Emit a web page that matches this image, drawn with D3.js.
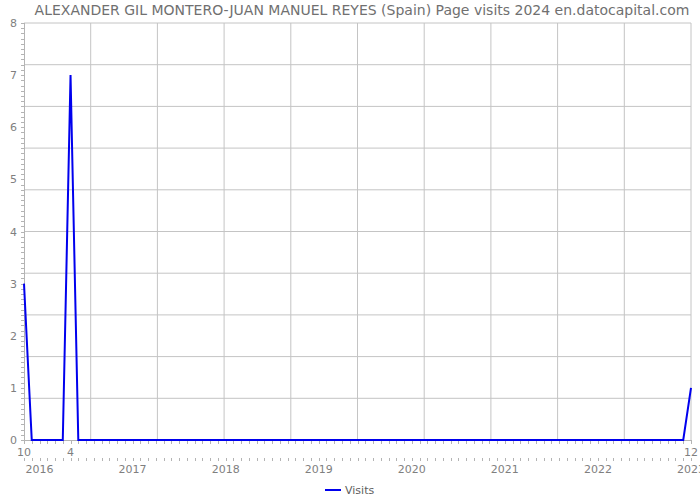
<!DOCTYPE html>
<html><head><meta charset="utf-8">
<script src="https://cdn.jsdelivr.net/npm/d3@7"></script>
<style>body{margin:0;background:#fff}svg{display:block;font-family:"DejaVu Sans",sans-serif}</style>
</head><body><svg id="c" width="700" height="500"></svg>
<script>
const title = "ALEXANDER GIL MONTERO-JUAN MANUEL REYES (Spain) Page visits 2024 en.datocapital.com";
const visits = [3,0,0,0,0,0,7,0,0,0,0,0,0,0,0,0,0,0,0,0,0,0,0,0,0,0,0,0,0,0,0,0,0,0,0,0,0,0,0,0,0,0,0,0,0,0,0,0,0,0,0,0,0,0,0,0,0,0,0,0,0,0,0,0,0,0,0,0,0,0,0,0,0,0,0,0,0,0,0,0,0,0,0,0,0,0,1];
const monthMarks = [{i:0,label:"10"},{i:6,label:"4"},{i:86,label:"12"}];
const yearLabels = ["2016","2017","2018","2019","2020","2021","2022","2023"];
const yLabels = [0,1,2,3,4,5,6,7,8];
const seriesName = "Visits";

const svg = d3.select("#c");
const L=24,R=691,T=23,B=440;
const x = d3.scaleLinear().domain([0,visits.length-1]).range([L,R]);
const y = d3.scaleLinear().domain([0,8]).range([B,T]);
const gridCol="#c4c4c4", tickCol="#b4b4b4", txt="#7f7f7f";

const g = svg.append("g");
for(let k=1;k<=10;k++){
  const xv = x.invert(L+(R-L)*k/10);
  g.append("line").attr("x1",x(xv)).attr("x2",x(xv)).attr("y1",T).attr("y2",B).attr("stroke",gridCol);
}
for(let k=1;k<=10;k++){
  const yv = 0.8*k;
  g.append("line").attr("x1",L).attr("x2",R).attr("y1",y(yv)).attr("y2",y(yv)).attr("stroke",gridCol);
}
svg.append("line").attr("x1",L+0.5).attr("x2",L+0.5).attr("y1",T).attr("y2",B).attr("stroke",tickCol);
svg.append("line").attr("x1",L).attr("x2",R+1).attr("y1",B+0.5).attr("y2",B+0.5).attr("stroke",tickCol);
d3.range(0,81).forEach(k=>{
  const yy=Math.round(y(k/10))+0.5;
  svg.append("line").attr("x1",L-3).attr("x2",L).attr("y1",yy).attr("y2",yy).attr("stroke",tickCol);
});
svg.selectAll(".yl").data(yLabels).enter().append("text")
  .attr("x",17).attr("y",d=>y(d)+4).attr("text-anchor","end")
  .attr("font-size",11).attr("fill",txt).text(d=>d);
visits.forEach((v,i)=>{
  const xx=Math.round(x(i))+0.5;
  svg.append("line").attr("x1",xx).attr("x2",xx).attr("y1",B+1).attr("y2",B+4).attr("stroke",tickCol);
  svg.append("line").attr("x1",xx).attr("x2",xx).attr("y1",458).attr("y2",461).attr("stroke",tickCol);
});
svg.selectAll(".ml").data(monthMarks).enter().append("text")
  .attr("x",d=>x(d.i)).attr("y",456).attr("text-anchor","middle")
  .attr("font-size",11).attr("fill",txt).text(d=>d.label);
svg.selectAll(".yrl").data(yearLabels).enter().append("text")
  .attr("x",(d,k)=>x(2+12*k)).attr("y",473).attr("text-anchor","middle")
  .attr("font-size",11).attr("fill",txt).text(d=>d);
svg.append("path").datum(visits)
  .attr("d",d3.line().x((d,i)=>x(i)).y(d=>y(d)))
  .attr("fill","none").attr("stroke","#0000ee").attr("stroke-width",2).attr("stroke-linejoin","miter");
svg.append("text").attr("x",362).attr("y",15).attr("text-anchor","middle")
  .attr("font-size",14).attr("fill","#707070").text(title);
svg.append("line").attr("x1",325).attr("x2",341).attr("y1",490).attr("y2",490).attr("stroke","#0000ee").attr("stroke-width",2);
svg.append("text").attr("x",345).attr("y",494).attr("font-size",11).attr("fill","#606060").text(seriesName);
</script></body></html>
